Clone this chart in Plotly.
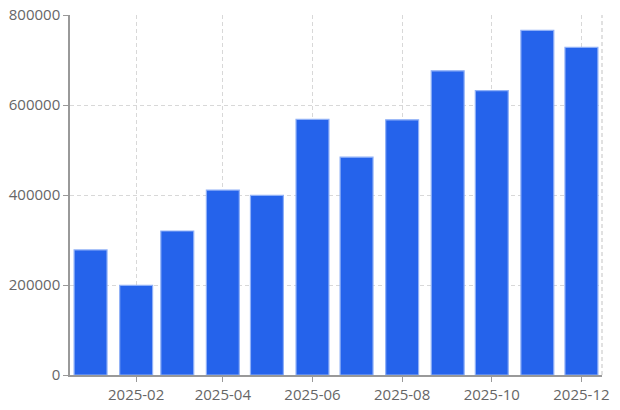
import plotly.graph_objects as go

# monthly totals, 2025
months = ["2025-01-01", "2025-02-01", "2025-03-01", "2025-04-01", "2025-05-01", "2025-06-01",
          "2025-07-01", "2025-08-01", "2025-09-01", "2025-10-01", "2025-11-01", "2025-12-01"]
values = [278000, 199000, 320000, 411000, 399000, 568000,
          484000, 567000, 676000, 632000, 766000, 728000]
y_ticks = [0, 200000, 400000, 600000, 800000]

fig = go.Figure(go.Bar(
    x=months,
    y=values,
    marker=dict(color="#2563EB", line=dict(color="#8FB0F7", width=1.2)),
))

axis_font = dict(family="Open Sans, sans-serif", size=15, color="#666")
grid_dash = "4px,3px"

fig.update_layout(
    width=620, height=410,
    margin=dict(l=70, r=18, t=15, b=35),
    paper_bgcolor="white", plot_bgcolor="white",
    showlegend=False,
    xaxis=dict(
        type="date", tickformat="%Y-%m", dtick="M2", tick0="2025-02-01",
        showgrid=True, gridcolor="#d8d8d8", griddash=grid_dash, gridwidth=1,
        showline=True, linecolor="#999", linewidth=1.5,
        ticks="outside", ticklen=5, tickcolor="#999",
        tickfont=axis_font, automargin=False,
    ),
    yaxis=dict(
        range=[0, 800000], tickvals=y_ticks, tickformat="d",
        showgrid=True, gridcolor="#d8d8d8", griddash=grid_dash, gridwidth=1,
        showline=True, linecolor="#999", linewidth=1.5,
        ticks="outside", ticklen=5, tickcolor="#999",
        zeroline=False,
        tickfont=axis_font, automargin=False,
    ),
    shapes=[dict(type="line", xref="paper", yref="paper", x0=1, x1=1, y0=0, y1=1,
                 line=dict(color="#d8d8d8", width=1.5, dash=grid_dash))],
)

# page margin off so the 620x410 figure fills the window
fig.write_html(
    "out.html",
    config={"displayModeBar": False},
    post_script="document.body.style.margin='0';document.body.style.overflow='hidden';",
)
